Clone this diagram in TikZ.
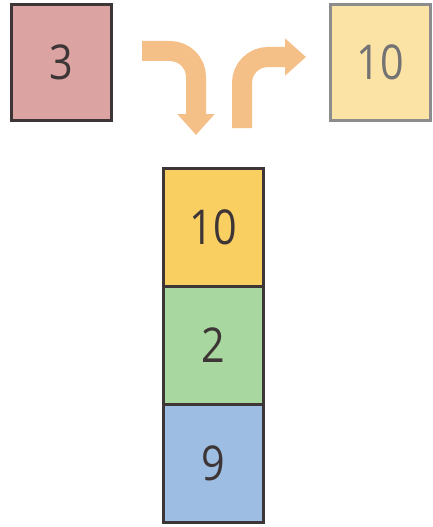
\documentclass[tikz,border=0pt]{standalone}
\usepackage{fontspec}
\newfontfamily\digitfont[FakeStretch=0.86]{Open Sans}
\usetikzlibrary{arrows.meta}
\definecolor{pinkfill}{HTML}{DBA3A2}
\definecolor{paleyellow}{HTML}{FBE3A6}
\definecolor{goldfill}{HTML}{F9CF62}
\definecolor{greenfill}{HTML}{A9D7A0}
\definecolor{bluefill}{HTML}{9DBEE2}
\definecolor{flowcol}{HTML}{F5BF88}
\definecolor{darkline}{HTML}{3E3636}

\begin{document}
\begin{tikzpicture}[x=1pt,y=-1pt,
  cell/.style={draw=darkline, line width=3pt, inner sep=0pt, minimum width=100pt,
    minimum height=115pt, text=darkline, font=\digitfont\fontsize{48}{52}\selectfont},
  flow/.style={flowcol, line width=20pt, rounded corners=26pt,
    -{Triangle[length=21pt, width=36pt]}}]
\useasboundingbox (0,0) rectangle (433,527);
% top row
\node[cell, fill=pinkfill] (popped) at (61.5,62.5) {3};
\node[cell, fill=paleyellow, draw=black!45, text=black!55] (pushed) at (380,62.5) {10};
% stack
\node[cell, fill=goldfill, minimum height=118pt] (top) at (213,227) {10};
\node[cell, fill=greenfill, minimum height=118pt] (mid) at (213,345) {2};
\node[cell, fill=bluefill, minimum height=118pt] (bottom) at (213,463) {9};
% arrows
\coordinate (instart) at (142,51);
\coordinate (inend) at (196,135);
\coordinate (outstart) at (242,128);
\coordinate (outend) at (306,57);
\draw[flow] (instart) -| (inend);
\draw[flow] (outstart) |- (outend);
\end{tikzpicture}
\end{document}
